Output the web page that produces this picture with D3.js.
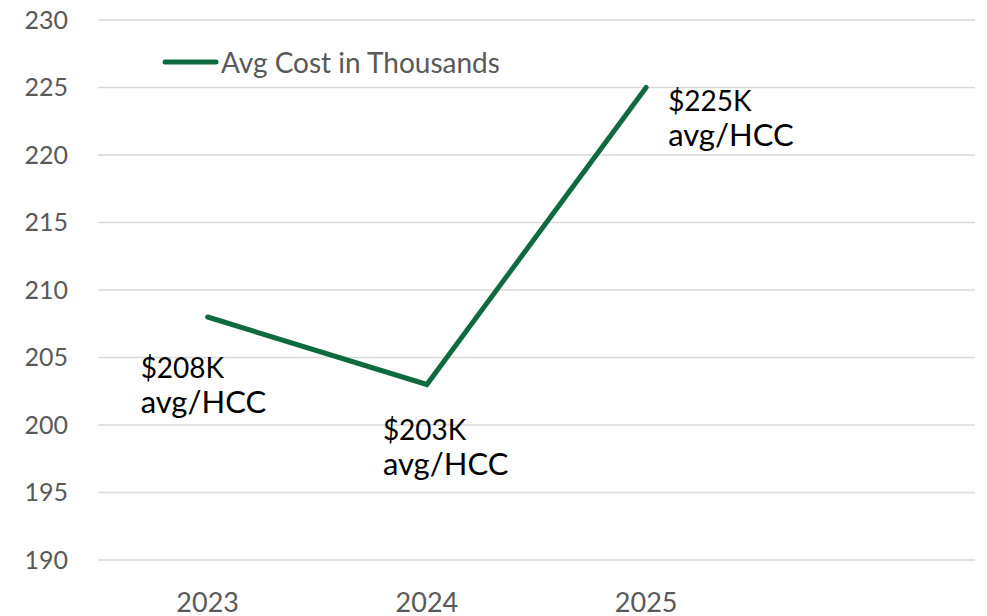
<!DOCTYPE html>
<html>
<head>
<meta charset="utf-8">
<script src="https://cdn.jsdelivr.net/npm/d3@7"></script>
<style>
  body { margin: 0; background: #fff; }
  svg { display: block; font-family: Lato, "Open Sans", sans-serif; }
</style>
</head>
<body>
<div id="chart"></div>
<script>
// data
var years = ["2023", "2024", "2025"];
var avgCost = [208, 203, 225];
var pointLabels = [["$208K", "avg/HCC"], ["$203K", "avg/HCC"], ["$225K", "avg/HCC"]];
var yTicks = [190, 195, 200, 205, 210, 215, 220, 225, 230];
var seriesName = "Avg Cost in Thousands";

var width = 987, height = 616;
var margin = { top: 20, right: 12, bottom: 56, left: 98 };

var svg = d3.select("#chart").append("svg")
	.attr("width", width)
	.attr("height", height);

// 4 slots on the category axis, last one left empty
var x = d3.scaleBand()
	.domain(years.concat([""]))
	.range([margin.left, width - margin.right]);

var y = d3.scaleLinear()
	.domain([190, 230])
	.range([height - margin.bottom, margin.top]);

// gridlines
svg.append("g")
	.selectAll("line")
	.data(yTicks)
	.join("line")
	.attr("x1", margin.left)
	.attr("x2", width - margin.right)
	.attr("y1", d => y(d))
	.attr("y2", d => y(d))
	.attr("stroke", "#d9d9d9")
	.attr("stroke-width", 1.5);

// y axis
var yAxis = g => g
	.attr("transform", `translate(${margin.left},0)`)
	.call(d3.axisLeft(y).tickValues(yTicks).tickSize(0).tickPadding(30))
	.call(g => g.select(".domain").remove())
	.call(g => g.selectAll("text")
		.attr("fill", "#595959")
		.style("font-size", "25px")
		.style("font-family", "Lato, 'Open Sans', sans-serif"));
svg.append("g").call(yAxis);

// x axis
var xAxis = g => g
	.attr("transform", `translate(0,${height - margin.bottom})`)
	.call(d3.axisBottom(x).tickValues(years).tickSize(0).tickPadding(33))
	.call(g => g.select(".domain").remove())
	.call(g => g.selectAll("text")
		.attr("fill", "#595959")
		.style("font-size", "27px")
		.style("font-family", "Lato, 'Open Sans', sans-serif"));
svg.append("g").call(xAxis);

var data = years.map((d, i) => ({ year: d, value: avgCost[i], label: pointLabels[i] }));
var cx = d => x(d.year) + x.bandwidth() / 2;

var line = d3.line()
	.x(cx)
	.y(d => y(d.value));

svg.append("path")
	.datum(data)
	.attr("fill", "none")
	.attr("stroke", "#0f6b3f")
	.attr("stroke-width", 5)
	.attr("stroke-linecap", "round")
	.attr("stroke-linejoin", "miter")
	.attr("d", line);

// data labels (offsets per point, like the original)
var labelOffsets = [[-67, 61], [-44, 55], [22, 23]];
var labels = svg.append("g")
	.selectAll("text")
	.data(data)
	.join("text")
	.attr("x", (d, i) => cx(d) + labelOffsets[i][0])
	.attr("y", (d, i) => y(d.value) + labelOffsets[i][1])
	.attr("fill", "#000")
	.style("font-size", "29px");
labels.selectAll("tspan")
	.data(d => d.label)
	.join("tspan")
	.attr("x", function () { return this.parentNode.getAttribute("x"); })
	.attr("dy", (t, j) => j === 0 ? 0 : 35)
	.style("font-size", (t, j) => j === 0 ? "28px" : "31px")
	.text(t => t);

// legend
var legend = svg.append("g").attr("transform", "translate(165,62)");
legend.append("line")
	.attr("x1", 0).attr("x2", 51)
	.attr("y1", 0).attr("y2", 0)
	.attr("stroke", "#0f6b3f")
	.attr("stroke-width", 5)
	.attr("stroke-linecap", "round");
legend.append("text")
	.attr("x", 56)
	.attr("y", 11)
	.attr("fill", "#595959")
	.style("font-size", "28px")
	.text(seriesName);
</script>
</body>
</html>
